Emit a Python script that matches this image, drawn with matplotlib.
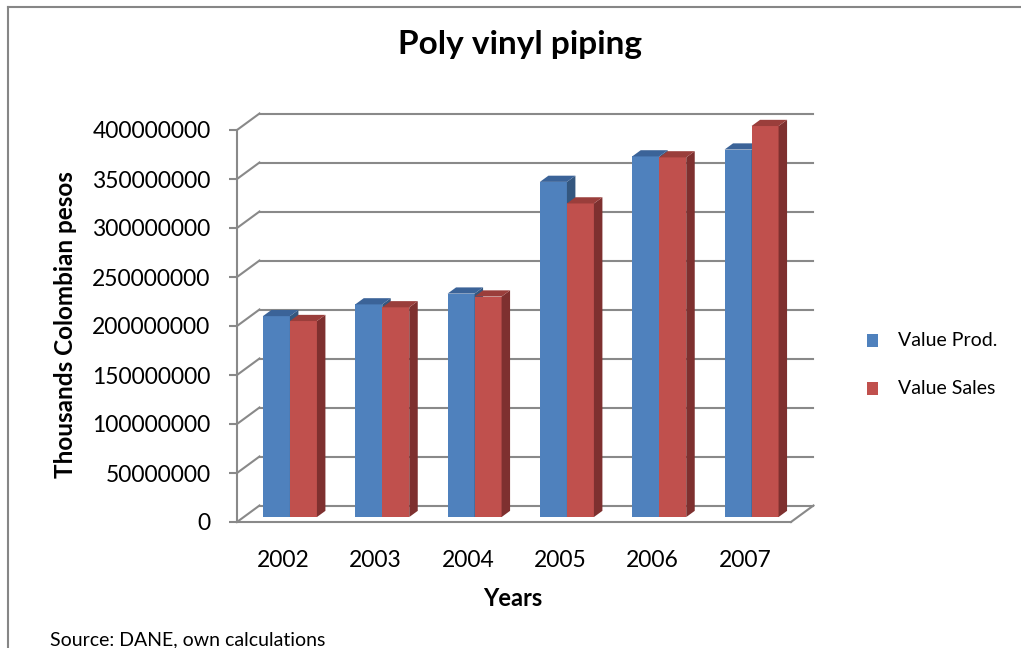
import numpy as np
import matplotlib.pyplot as plt
from matplotlib.patches import Polygon, Rectangle
from matplotlib.lines import Line2D

# Data (thousands of Colombian pesos)
years = ['2002', '2003', '2004', '2005', '2006', '2007']
value_prod = [205e6, 217e6, 228e6, 342e6, 368e6, 375e6]
value_sales = [200e6, 214e6, 225e6, 320e6, 367e6, 399e6]
y_ticks = [0, 50e6, 100e6, 150e6, 200e6, 250e6, 300e6, 350e6, 400e6]

plt.rcParams['font.family'] = ['Lato', 'DejaVu Sans']

# Colours (front, top, side)
blue = ('#4F81BD', '#3B6398', '#34577F')
red = ('#C0504D', '#9A3E3B', '#7E302F')
grid_col = '#898989'

W, H = 1021, 648
fig = plt.figure(figsize=(W / 100, H / 100), dpi=100)

# axes in pixels: value 0 at y=522, left axis at x=237
left_px, zero_px, right_px, top_px = 237, 522, 830, 100
cat_px = 92.33
px_per_val = 49 / 50e6
ax = fig.add_axes([left_px / W, (H - zero_px) / H,
                   (right_px - left_px) / W, (zero_px - top_px) / H])
ax.set_xlim(-0.5, -0.5 + (right_px - left_px) / cat_px)
ax.set_ylim(0, (zero_px - top_px) / px_per_val)

# fake 3D depth (px -> data units)
wall_dx, wall_dy = 22.5 / cat_px, 16.5 / px_per_val
bar_dx, bar_dy = 8.5 / cat_px, 6.2 / px_per_val
f = 0.3
off_x, off_y = f * wall_dx, f * wall_dy
bw = 27 / cat_px

n = len(years)
x = np.arange(n)
x0, x1 = -0.5, n - 0.5

# back wall gridlines + left wall diagonals
for t in y_ticks:
    ax.plot([x0 + wall_dx, x1 + wall_dx], [t + wall_dy, t + wall_dy],
            color=grid_col, lw=1.5, zorder=1, clip_on=False)
    ax.plot([x0, x0 + wall_dx], [t, t + wall_dy],
            color=grid_col, lw=1.5, zorder=1, clip_on=False)
# floor front edge and right diagonal
ax.plot([x0, x1], [0, 0], color=grid_col, lw=1.5, zorder=1, clip_on=False)
ax.plot([x1, x1 + wall_dx], [0, wall_dy], color=grid_col, lw=1.5,
        zorder=1, clip_on=False)


def draw_bars(xs, vals, cols, z):
    bars = ax.bar(xs, vals, width=bw, bottom=off_y, align='edge',
                  color=cols[0], zorder=z)
    for xl, v in zip(xs, vals):
        xr = xl + bw
        top = off_y + v
        side = [(xr, off_y), (xr + bar_dx, off_y + bar_dy),
                (xr + bar_dx, top + bar_dy), (xr, top)]
        cap = [(xl, top), (xl + bar_dx, top + bar_dy),
               (xr + bar_dx, top + bar_dy), (xr, top)]
        ax.add_patch(Polygon(side, closed=True, fc=cols[2], ec='none', zorder=z))
        ax.add_patch(Polygon(cap, closed=True, fc=cols[1], ec='none', zorder=z))
    return bars


for i in range(n):
    draw_bars([x[i] + off_x - bw], [value_prod[i]], blue, 2 + i * 2)
    draw_bars([x[i] + off_x], [value_sales[i]], red, 3 + i * 2)

# axes styling
for s in ['top', 'right', 'bottom']:
    ax.spines[s].set_visible(False)
ax.spines['left'].set_color(grid_col)
ax.spines['left'].set_linewidth(1.5)
ax.spines['left'].set_bounds(0, y_ticks[-1])
ax.set_yticks(y_ticks, labels=[str(int(t)) for t in y_ticks])
ax.tick_params(axis='y', direction='out', length=6, width=1.5, color=grid_col,
               labelsize=16.5, pad=13)
ax.set_xticks(x, labels=years)
ax.tick_params(axis='x', length=0, labelsize=16.5, pad=20)
ax.patch.set_visible(False)

# texts
fig.text(520 / W, 1 - 54 / H, 'Poly vinyl piping', ha='center', va='baseline',
         fontsize=24, fontweight='bold')
fig.text(66 / W, 1 - 325 / H, 'Thousands Colombian pesos', rotation=90,
         ha='center', va='center', fontsize=17.5, fontweight='bold')
fig.text(513 / W, 1 - 606 / H, 'Years', ha='center', va='baseline',
         fontsize=17, fontweight='bold')
fig.text(50 / W, 1 - 645 / H, 'Source: DANE, own calculations', ha='left',
         va='baseline', fontsize=14)

# legend
for yc, col, lab in [(340, blue[0], 'Value Prod.'), (388, red[0], 'Value Sales')]:
    fig.add_artist(Rectangle((867 / W, 1 - (yc + 6.5) / H), 11 / W, 13 / H,
                             transform=fig.transFigure, fc=col, ec='none'))
    fig.text(898 / W, 1 - yc / H, lab, ha='left', va='center', fontsize=14)

# chart border (left and top)
fig.add_artist(Line2D([7.5 / W, 7.5 / W], [0, 1 - 6.5 / H], color='#868686',
                      lw=1.5, transform=fig.transFigure))
fig.add_artist(Line2D([7.5 / W, 1], [1 - 6.5 / H, 1 - 6.5 / H], color='#868686',
                      lw=1.5, transform=fig.transFigure))

fig.savefig('out.png', dpi=100)
plt.close(fig)
